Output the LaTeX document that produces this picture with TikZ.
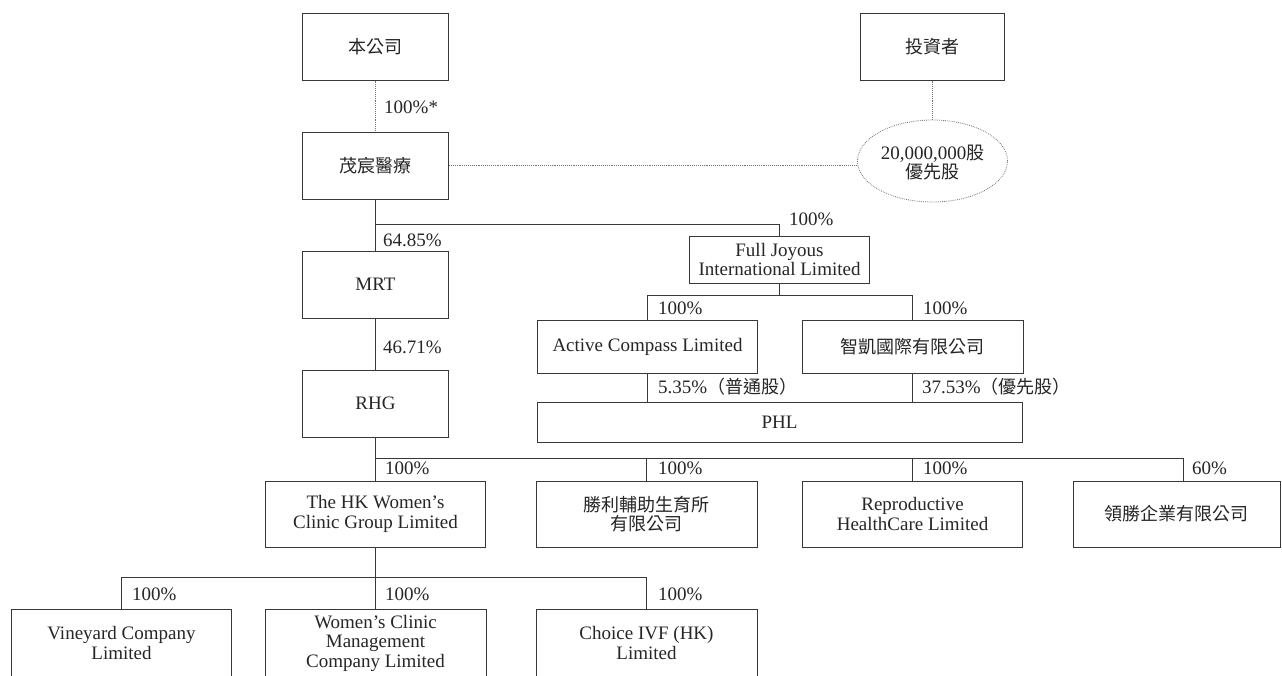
\documentclass[tikz,border=0pt]{standalone}
\usepackage{fontspec}
\setmainfont{Liberation Serif}
\newfontfamily\cjk{Noto Sans CJK TC}
\usetikzlibrary{shapes.geometric,calc}
\newcommand\zh[1]{{\cjk\fontsize{18}{19.5}\selectfont #1}}
\definecolor{edge}{gray}{0.22}
\definecolor{txt}{gray}{0.15}
\begin{document}
\begin{tikzpicture}[x=1pt,y=-1pt,
  every node/.style={font=\fontsize{19}{19.5}\selectfont, text=txt},
  box/.style={draw=edge, line width=1pt, rectangle, inner sep=0pt, align=center},
  ell/.style={ellipse, draw=black!55, line width=0.8pt, dash pattern=on 0.8pt off 1.1pt, inner sep=0pt, align=center, minimum width=150, minimum height=82},
  ln/.style={draw=edge, line width=1pt},
  dots/.style={draw=black!55, line width=0.8pt, dash pattern=on 0.8pt off 1.1pt},
  lab/.style={anchor=west, inner sep=0pt}
]
\useasboundingbox (0,0) rectangle (1282,675);
\fill[white] (0,0) rectangle (1282,675);

% boxes
\node[box,minimum width=146,minimum height=67] (co) at (375.5,46.5) {\zh{本公司}};
\node[box,minimum width=144,minimum height=67] (inv) at (932.5,46.5) {\zh{投資者}};
\node[box,minimum width=146,minimum height=67] (ms) at (375.5,165.5) {\zh{茂宸醫療}};
\node[ell] (pref) at (932.5,161) {\rule{0pt}{18pt}20,000,000\zh{股}\\[-0.5pt]\zh{優先股}};
\node[box,minimum width=146,minimum height=67] (mrt) at (375.5,284.5) {MRT};
\node[box,minimum width=146,minimum height=67] (rhg) at (375.5,403.5) {RHG};
\node[box,minimum width=180,minimum height=47] (fj) at (779.5,259.5) {Full Joyous\\International Limited};
\node[box,minimum width=220,minimum height=53] (ac) at (647.5,346.5) {Active Compass Limited};
\node[box,minimum width=221,minimum height=53] (zk) at (912.5,346.5) {\zh{智凱國際有限公司}};
\node[box,minimum width=485,minimum height=40] (phl) at (779.5,422) {PHL};
\node[box,minimum width=220,minimum height=66] (hk) at (375.5,514) {The HK Women's\\Clinic Group Limited};
\node[box,minimum width=221,minimum height=66] (sl) at (646.5,514) {\zh{勝利輔助生育所}\\\zh{有限公司}};
\node[box,minimum width=220,minimum height=66] (rh) at (912.5,514) {Reproductive\\HealthCare Limited};
\node[box,minimum width=207,minimum height=66] (ls) at (1176.5,514) {\zh{領勝企業有限公司}};
\node[box,minimum width=220,minimum height=68] (vy) at (121.5,643) {Vineyard Company\\Limited};
\node[box,minimum width=221,minimum height=68] (wc) at (375.5,643) {Women's Clinic\\Management\\Company Limited};
\node[box,minimum width=221,minimum height=68] (cv) at (646.5,643) {Choice IVF (HK)\\Limited};

% dotted connectors
\draw[dots] (co.south) -- (ms.north);
\draw[dots] (ms.east) -- (ms.east -| pref.west);
\draw[dots] (inv.south) -- (pref.north);

% solid connectors
\coordinate (b1) at (375.5,224.5);
\coordinate (b2) at (779.5,295.5);
\coordinate (b3) at (375.5,458.5);
\coordinate (b3e) at (1183.5,458.5);
\coordinate (b4) at (375.5,577.5);
\draw[ln] (ms.south) -- (mrt.north);
\draw[ln] (b1) -| (fj.north);
\draw[ln] (mrt.south) -- (rhg.north);
\draw[ln] (fj.south) -- (b2);
\draw[ln] (ac.north) |- (b2) -| (zk.north);
\draw[ln] (ac.south) -- (ac.south |- phl.north);
\draw[ln] (zk.south) -- (zk.south |- phl.north);
\draw[ln] (rhg.south) -- (hk.north);
\draw[ln] (b3) -- (b3e) -- (b3e |- ls.north);
\draw[ln] (sl.north) -- (sl.north |- b3);
\draw[ln] (rh.north) -- (rh.north |- b3);
\draw[ln] (hk.south) -- (b4);
\draw[ln] (vy.north) |- (b4) -| (cv.north);
\draw[ln] (b4) -- (b4 |- wc.north);

% labels
\node[lab] (l1) at (384,107) {100\%*};
\node[lab] (l2) at (383,240) {64.85\%};
\node[lab] (l3) at (789,219) {100\%};
\node[lab] (l4) at (383,347) {46.71\%};
\node[lab] (l5) at (658,308) {100\%};
\node[lab] (l6) at (923,308) {100\%};
\node[lab] (l7) at (658,387) {5.35\%\zh{（普通股）}};
\node[lab] (l8) at (922,387) {37.53\%\zh{（優先股）}};
\node[lab] (l9) at (385,468) {100\%};
\node[lab] (l10) at (658,468) {100\%};
\node[lab] (l11) at (923,468) {100\%};
\node[lab] (l12) at (1192,468) {60\%};
\node[lab] (l13) at (132,594) {100\%};
\node[lab] (l14) at (385,594) {100\%};
\node[lab] (l15) at (658,594) {100\%};
\end{tikzpicture}
\end{document}
